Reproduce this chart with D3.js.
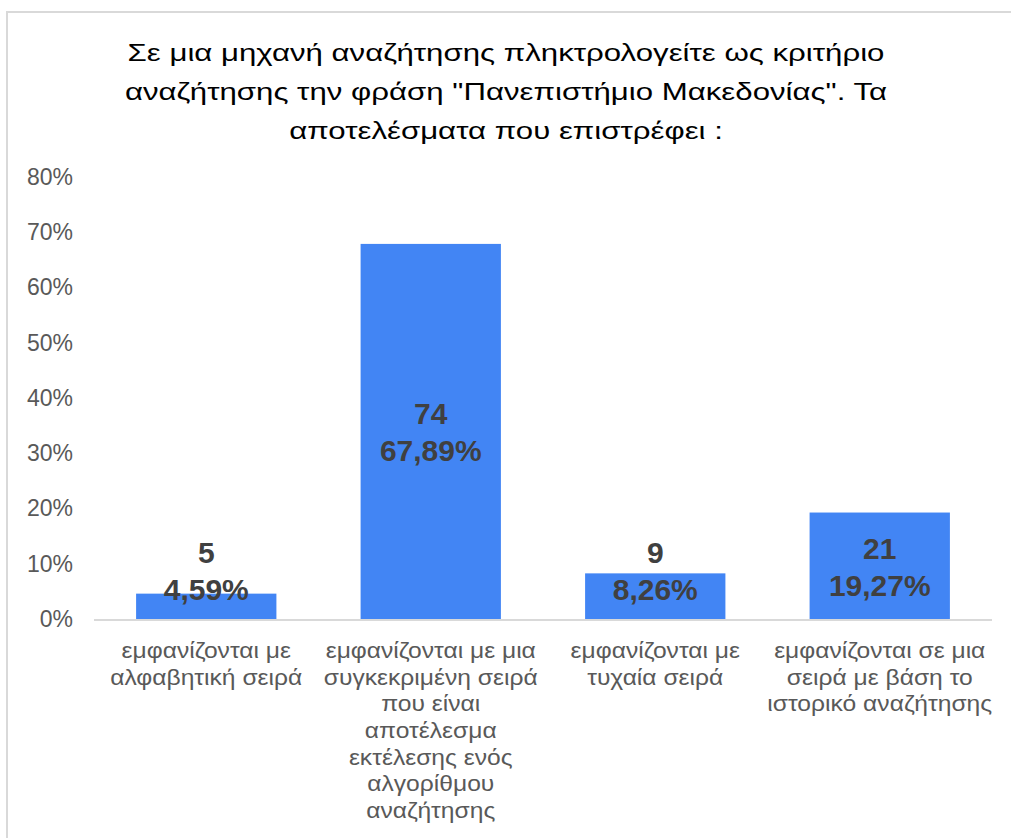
<!DOCTYPE html>
<html>
<head>
<meta charset="utf-8">
<script src="https://cdn.jsdelivr.net/npm/d3@7"></script>
<style>
  html, body { margin: 0; padding: 0; background: #fff; }
  svg { display: block; }
  text { font-family: "Liberation Sans", Arial, sans-serif; }
</style>
</head>
<body>
<svg id="chart" width="1011" height="838"></svg>
<script>
// Survey answers: number of respondents and share per answer
const titleLines = [
  "Σε μια μηχανή αναζήτησης πληκτρολογείτε ως κριτήριο",
  "αναζήτησης την φράση \"Πανεπιστήμιο Μακεδονίας\". Τα",
  "αποτελέσματα που επιστρέφει :"
];
const categoryLines = [
  ["εμφανίζονται με", "αλφαβητική σειρά"],
  ["εμφανίζονται με μια", "συγκεκριμένη σειρά", "που είναι", "αποτέλεσμα", "εκτέλεσης ενός", "αλγορίθμου", "αναζήτησης"],
  ["εμφανίζονται με", "τυχαία σειρά"],
  ["εμφανίζονται σε μια", "σειρά με βάση το", "ιστορικό αναζήτησης"]
];
const counts = [5, 74, 9, 21];
const percents = [4.59, 67.89, 8.26, 19.27];
const yTicks = [0, 10, 20, 30, 40, 50, 60, 70, 80];

const svg = d3.select("#chart");

// Card frame (only its top and left edges fall inside the view)
svg.append("rect")
  .attr("x", 7).attr("y", 12)
  .attr("width", 1100).attr("height", 900)
  .attr("fill", "#fff")
  .attr("stroke", "#d9d9d9")
  .attr("stroke-width", 2);

// Title, set in a wide face (horizontally stretched)
svg.append("g")
  .attr("transform", "translate(506,0) scale(1.3,1)")
  .selectAll("text")
  .data(titleLines)
  .join("text")
  .attr("x", 0)
  .attr("y", (d, i) => 61 + i * 39)
  .attr("text-anchor", "middle")
  .attr("font-size", 24)
  .attr("fill", "#000")
  .text(d => d);

const plot = { left: 94, right: 992, top: 177, bottom: 619 };

const x = d3.scaleBand()
  .domain(d3.range(counts.length))
  .range([plot.left, plot.right])
  .paddingInner(0.375)
  .paddingOuter(0.1875);

const y = d3.scaleLinear()
  .domain([0, 80])
  .range([plot.bottom, plot.top]);

// Y axis labels (no axis line, no gridlines)
const yAxis = d3.axisLeft(y)
  .tickValues(yTicks)
  .tickSize(0)
  .tickPadding(0)
  .tickFormat(d => d + "%");

const yg = svg.append("g")
  .attr("transform", `translate(73,0)`)
  .call(yAxis);
yg.select(".domain").remove();
yg.selectAll("text")
  .attr("font-size", 23)
  .attr("font-family", "'Liberation Sans', Arial, sans-serif")
  .attr("fill", "#595959");

// Bars
svg.append("g").selectAll("rect")
  .data(percents)
  .join("rect")
  .attr("x", (d, i) => x(i))
  .attr("y", d => y(d))
  .attr("width", x.bandwidth())
  .attr("height", d => y(0) - y(d))
  .attr("fill", "#4285f4");

// Baseline
svg.append("line")
  .attr("x1", plot.left).attr("x2", plot.right)
  .attr("y1", y(0) + 1).attr("y2", y(0) + 1)
  .attr("stroke", "#d9d9d9")
  .attr("stroke-width", 2);

// Value labels: count over percentage, centred in the bar
const fmtPct = v => v.toFixed(2).replace(".", ",") + "%";
const labels = svg.append("g").selectAll("g")
  .data(percents)
  .join("g")
  .attr("transform", (d, i) => {
    const mid = (y(d) + y(0)) / 2;
    const cy = Math.min(mid, y(0) - 49);
    return `translate(${x(i) + x.bandwidth() / 2},${cy})`;
  });
labels.append("text")
  .attr("y", -7)
  .attr("text-anchor", "middle")
  .attr("font-size", 30)
  .attr("font-weight", "bold")
  .attr("fill", "#404040")
  .text((d, i) => counts[i]);
labels.append("text")
  .attr("y", 30)
  .attr("text-anchor", "middle")
  .attr("font-size", 30)
  .attr("font-weight", "bold")
  .attr("fill", "#404040")
  .text(d => fmtPct(d));

// Category labels, one tspan per wrapped line
const cats = svg.append("g").selectAll("text")
  .data(categoryLines)
  .join("text")
  .attr("transform", (d, i) => `translate(${x(i) + x.bandwidth() / 2},658) scale(1.12,1)`)
  .attr("text-anchor", "middle")
  .attr("font-size", 22)
  .attr("fill", "#595959");
cats.selectAll("tspan")
  .data(d => d)
  .join("tspan")
  .attr("x", 0)
  .attr("dy", (d, i) => i === 0 ? 0 : 26.7)
  .text(d => d);
</script>
</body>
</html>
